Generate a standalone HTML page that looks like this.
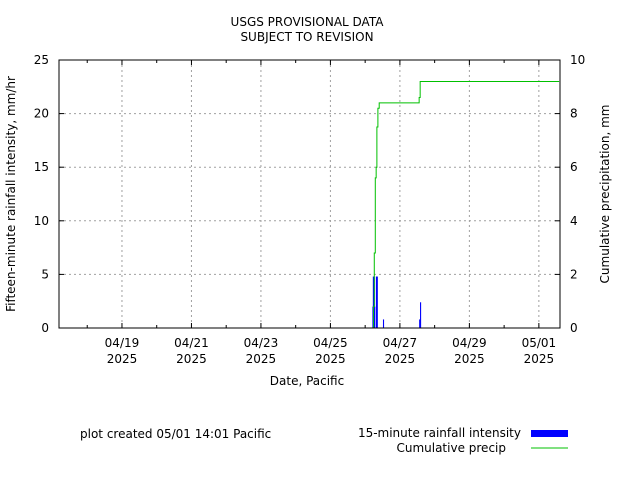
<!DOCTYPE html>
<html><head><meta charset="utf-8"><style>
body{margin:0;background:#fff;}
svg{display:block;font-family:"DejaVu Sans","Liberation Sans",sans-serif;}
</style></head><body>
<svg width="640" height="480" viewBox="0 0 640 480">
<g id="grid"></g>
<g id="marks"></g>
<g id="axes"></g>
<text x="307" y="26" font-size="12" text-anchor="middle">USGS PROVISIONAL DATA</text>
<text x="307" y="41" font-size="12" text-anchor="middle">SUBJECT TO REVISION</text>
<text x="307" y="385" font-size="12" text-anchor="middle">Date, Pacific</text>
<text transform="translate(15,194) rotate(-90)" font-size="12" text-anchor="middle">Fifteen-minute rainfall intensity, mm/hr</text>
<text transform="translate(609,194) rotate(-90)" font-size="12" text-anchor="middle">Cumulative precipitation, mm</text>
<text x="80" y="438" font-size="12">plot created 05/01 14:01 Pacific</text>
<text x="521" y="437" font-size="12" text-anchor="end">15-minute rainfall intensity</text>
<rect x="531" y="430" width="37" height="7" fill="#0000ff"/>
<text x="506" y="452" font-size="12" text-anchor="end">Cumulative precip</text>
<line x1="531" y1="448" x2="568" y2="448" stroke="#00c000" stroke-width="1"/>
</svg>
<script>
// hours relative to 04/19 00:00 Pacific
const dateLabels = ["04/19","04/21","04/23","04/25","04/27","04/29","05/01"];
const dateHours = [0,48,96,144,192,240,288];
const yTicks = [0,5,10,15,20,25];
const y2Ticks = [0,2,4,6,8,10];
const barHours = [173.0,173.3,173.6,173.9,174.2,175.4,175.7,176.0,180.3,205.3,205.9];
const barValues = [2.0,4.8,4.8,4.8,2.0,4.8,4.8,4.8,0.8,0.8,2.4];
const cumHours = [173.8,174.3,175.0,175.6,176.1,176.8,177.7,180.3,205.3,206.0,302];
const cumValues = [0.8,2.8,5.6,6.0,7.5,8.2,8.4,8.4,8.6,9.2,9.2];

const X0=59,X1=560,Y0=328,Y1=60,H0=-43.5,H1=302.6;
const xs=h=>X0+(h-H0)/(H1-H0)*(X1-X0);
const ys=v=>Y0-v/25*(Y0-Y1);
const y2s=v=>Y0-v/10*(Y0-Y1);
const NS="http://www.w3.org/2000/svg";
function mk(tag,attrs,parent){const e=document.createElementNS(NS,tag);for(const k in attrs)e.setAttribute(k,attrs[k]);document.getElementById(parent).appendChild(e);return e;}
// grid
dateHours.forEach(h=>{const g=mk('line',{x1:xs(h),x2:xs(h),y1:Y1,y2:Y0,stroke:'#a0a0a0','stroke-dasharray':'2,3'},'grid');

});
yTicks.slice(1,-1).forEach(v=>{const g=mk('line',{x1:X0,x2:X1,y1:ys(v),y2:ys(v),stroke:'#a0a0a0','stroke-dasharray':'2,3'},'grid');

});
// bars
barHours.forEach((h,i)=>{const x=xs(h),y=ys(barValues[i]);
const b=mk('rect',{x:x,y:y,width:1.1,height:Y0-y,fill:'#0000ff'},'marks');

});
// cumulative step line
let d='M'+xs(cumHours[0])+' '+Y0;
cumHours.forEach((h,i)=>{d+=' H'+xs(h)+' V'+y2s(cumValues[i]);});
const p=mk('path',{d:d,fill:'none',stroke:'#00c000','stroke-width':1},'marks');


// axes
const fr=mk('rect',{x:X0,y:Y1,width:X1-X0,height:Y0-Y1,fill:'none',stroke:'#000'},'axes');


yTicks.forEach(v=>{mk('line',{x1:X0,x2:X0+5,y1:ys(v),y2:ys(v),stroke:'#000'},'axes');mk('line',{x1:X1,x2:X1-5,y1:ys(v),y2:ys(v),stroke:'#000'},'axes');
const t=mk('text',{x:X0-10,y:ys(v)+4,'font-size':12,'text-anchor':'end'},'axes');t.textContent=v;

});
y2Ticks.forEach(v=>{const t=mk('text',{x:X1+10,y:y2s(v)+4,'font-size':12},'axes');t.textContent=v;

});
for(let h=-24;h<H1;h+=24){const big=dateHours.includes(h);const L=big?5:3;
mk('line',{x1:xs(h),x2:xs(h),y1:Y0,y2:Y0-L,stroke:'#000'},'axes');mk('line',{x1:xs(h),x2:xs(h),y1:Y1,y2:Y1+L,stroke:'#000'},'axes');}
dateHours.forEach((h,i)=>{const t=mk('text',{x:xs(h),y:347,'font-size':12,'text-anchor':'middle'},'axes');t.textContent=dateLabels[i];


const t2=mk('text',{x:xs(h),y:363,'font-size':12,'text-anchor':'middle'},'axes');t2.textContent='2025';

});
</script>
</body></html>
